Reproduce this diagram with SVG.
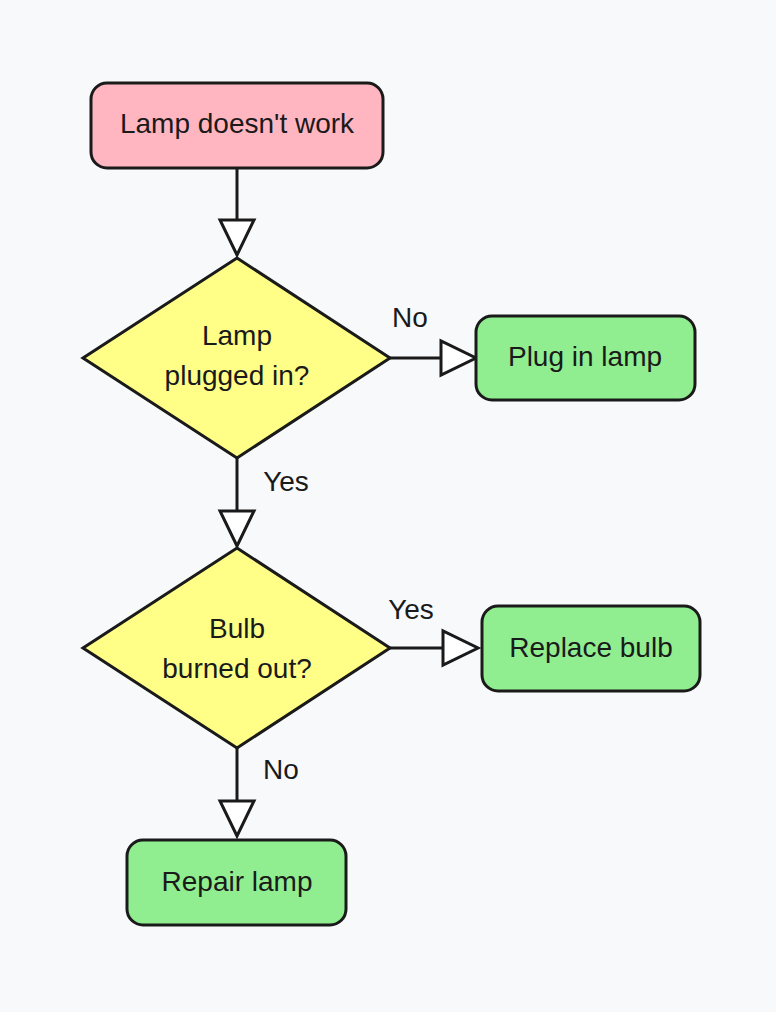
<svg xmlns="http://www.w3.org/2000/svg" width="776" height="1012" viewBox="0 0 776 1012">
<defs>
<style>
.n{stroke:#1a1a1a;stroke-width:3}
.t{font-family:"Liberation Sans",Arial,sans-serif;font-size:28px;fill:#1a1a1a;text-anchor:middle}
.e{stroke:#1a1a1a;stroke-width:3;fill:none}
</style>
<marker id="a" markerWidth="14" markerHeight="14" refX="12.5" refY="6" orient="auto" markerUnits="userSpaceOnUse" viewBox="0 0 14 12" overflow="visible">
<path d="M0,0 L0,0" />
</marker>
</defs>
<rect width="776" height="1012" fill="#f8f9fa"/>
<g id="connectors">
<path class="e" d="M237,168V220"/>
<path class="n" fill="#fff" d="M220,220H254L237,255Z"/>
<path class="e" d="M390,358H441"/>
<path class="n" fill="#fff" d="M441,341V375L476,358Z"/>
<text class="t" x="410" y="327">No</text>
<path class="e" d="M237,458V511"/>
<path class="n" fill="#fff" d="M220,511H254L237,546Z"/>
<text class="t" x="286" y="491">Yes</text>
<path class="e" d="M390,648H443"/>
<path class="n" fill="#fff" d="M443,631V665L478,648Z"/>
<text class="t" x="411" y="619">Yes</text>
<path class="e" d="M237,748V801"/>
<path class="n" fill="#fff" d="M220,801H254L237,836Z"/>
<text class="t" x="281" y="779">No</text>
</g>
<g id="start"><rect class="n" x="91" y="83" width="292" height="85" rx="16" fill="#ffb6c1"/><text class="t" x="237" y="133">Lamp doesn't work</text></g>
<g id="d1"><path class="n" d="M237,258L390,358L237,458L83,358Z" fill="#ffff88"/><text class="t" x="237" y="345">Lamp</text><text class="t" x="237" y="385">plugged in?</text></g>
<g id="plug"><rect class="n" x="476" y="316" width="219" height="84" rx="16" fill="#90ee90"/><text class="t" x="585" y="366">Plug in lamp</text></g>
<g id="d2"><path class="n" d="M237,548L390,648L237,748L83,648Z" fill="#ffff88"/><text class="t" x="237" y="638">Bulb</text><text class="t" x="237" y="678">burned out?</text></g>
<g id="replace"><rect class="n" x="482" y="606" width="218" height="85" rx="16" fill="#90ee90"/><text class="t" x="591" y="657">Replace bulb</text></g>
<g id="repair"><rect class="n" x="127" y="840" width="219" height="85" rx="16" fill="#90ee90"/><text class="t" x="237" y="891">Repair lamp</text></g>
</svg>
